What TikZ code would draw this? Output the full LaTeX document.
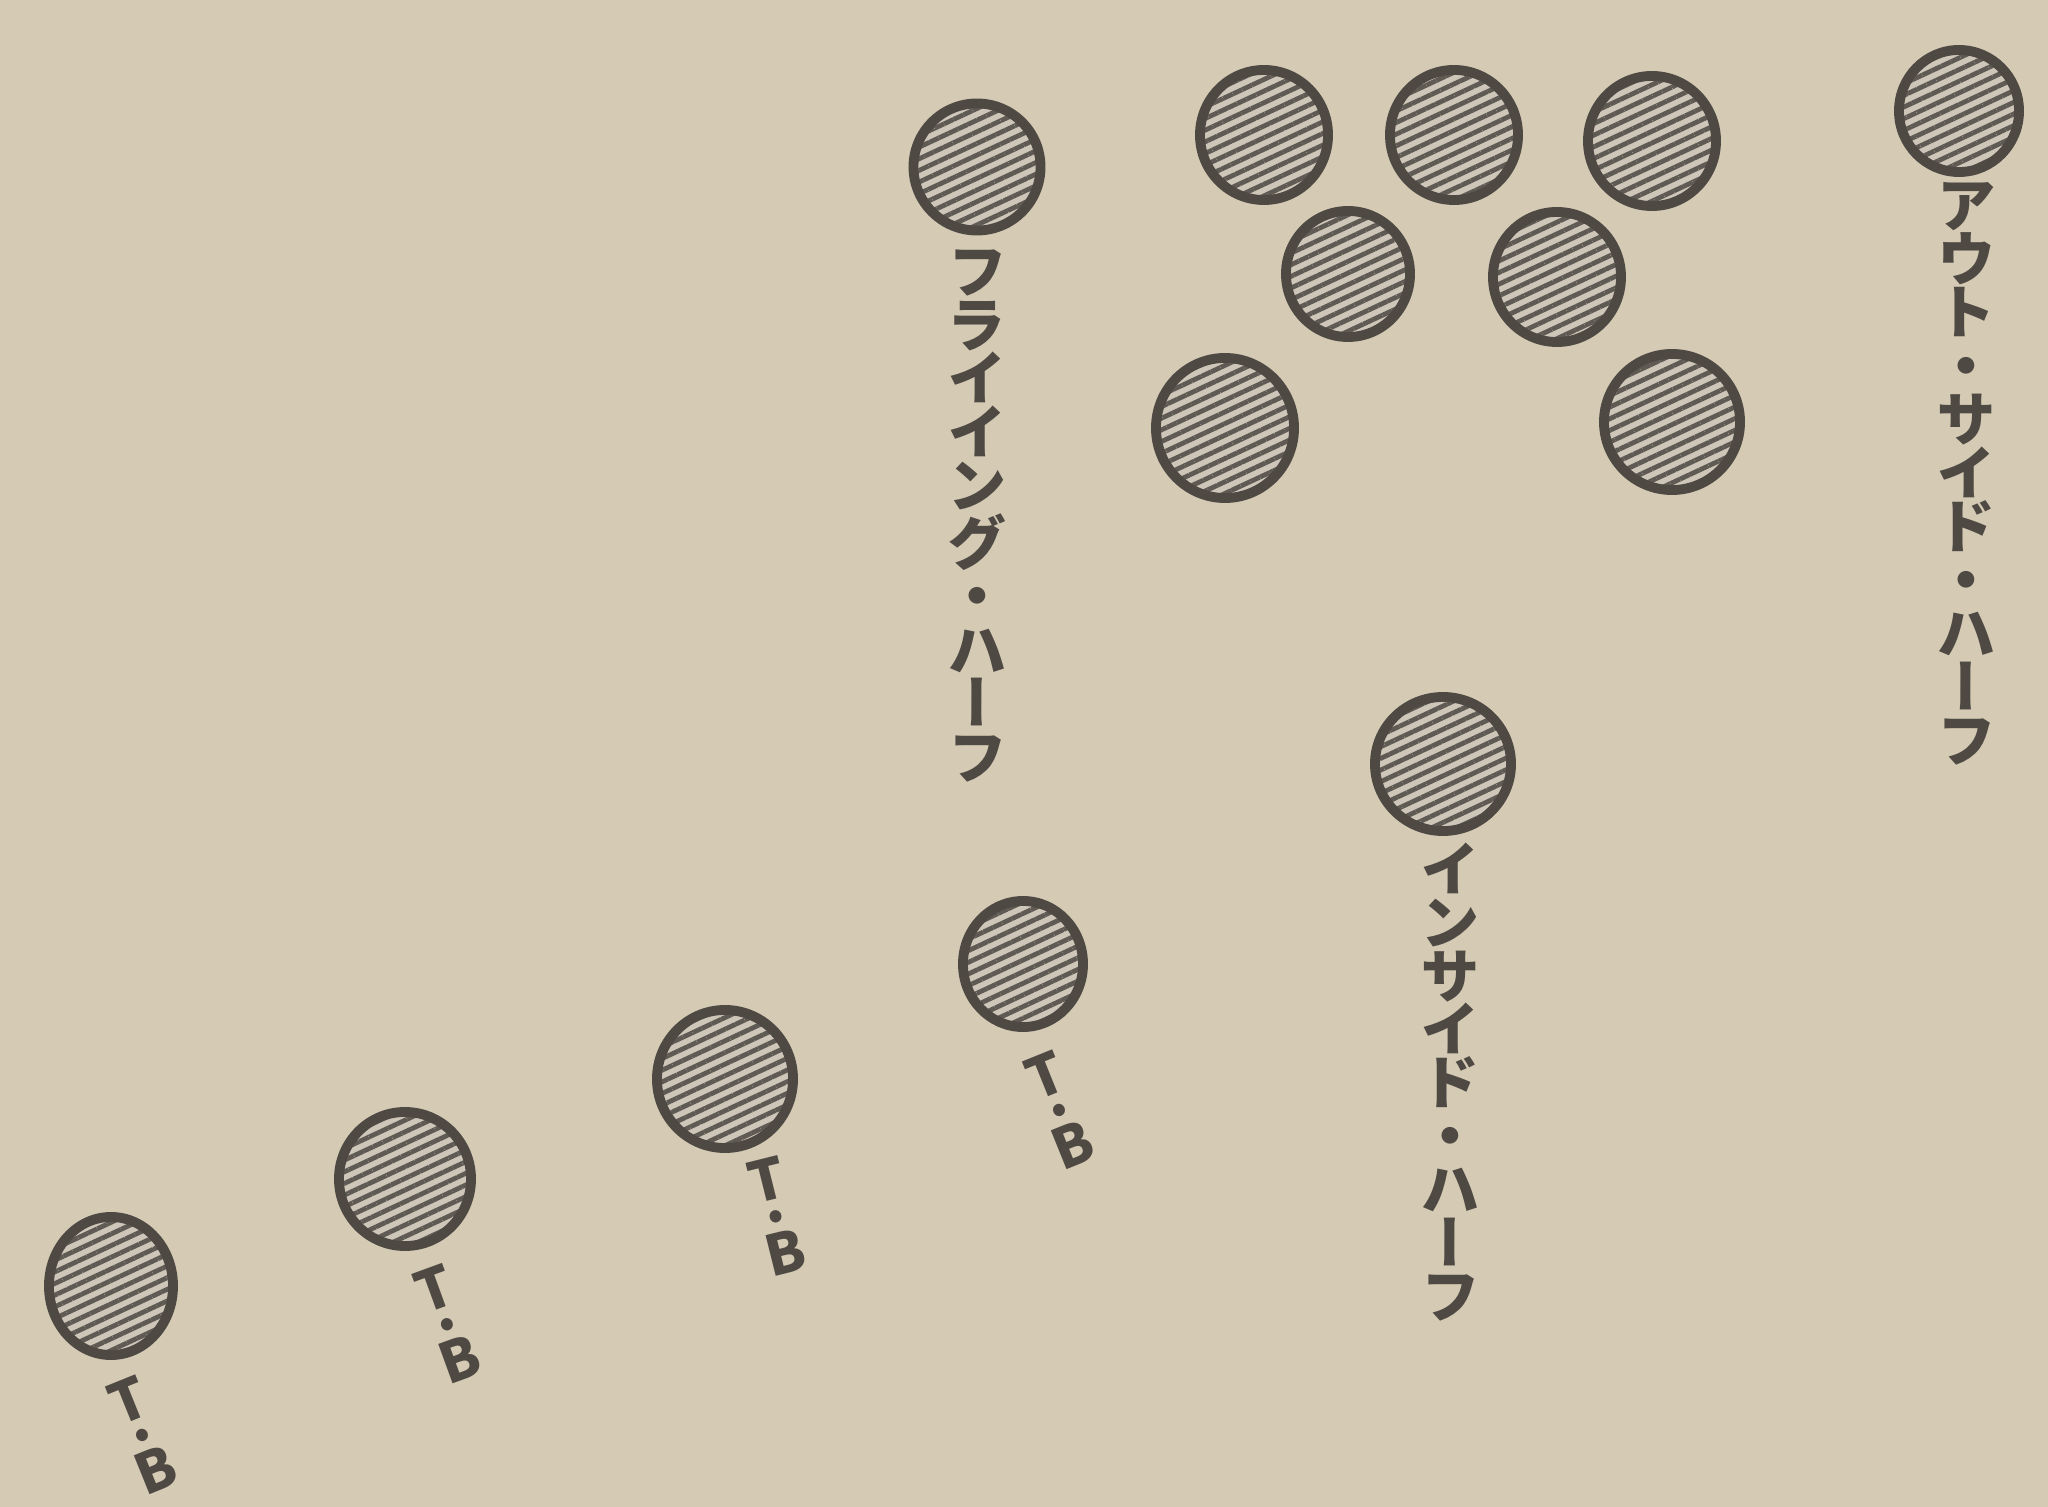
\documentclass[tikz,border=0pt]{standalone}
\usepackage{fontspec}
\newfontfamily\cjk[RawFeature=+vert]{Noto Sans CJK JP}
\usetikzlibrary{shapes.geometric,patterns.meta}
\definecolor{paper}{RGB}{213,202,180}
\definecolor{ink}{RGB}{78,73,67}
\definecolor{hatch}{RGB}{95,90,83}
\definecolor{base}{RGB}{205,198,185}
\newcommand\tbfont{\cjk\bfseries\fontsize{16}{9.3}\selectfont\lineskiplimit=-100pt\relax}
\begin{document}
\begin{tikzpicture}[x=0.01cm,y=-0.01cm,
  player/.style={ellipse, draw=ink, line width=2.8pt, inner sep=0pt,
    preaction={fill=base},
    pattern={Lines[angle=25,distance=3pt,line width=1.35pt]}, pattern color=hatch,
    minimum width=1.28cm, minimum height=1.3cm},
  lbl/.style={text=ink, font=\cjk\bfseries\fontsize{17}{15.2}\selectfont, align=center, inner sep=0pt},
  tblbl/.style={text=ink, font=\tbfont, align=center, inner sep=0pt}]
\fill[paper] (0,0) rectangle (2048,1507);
\useasboundingbox (0,0) rectangle (2048,1507);
% players
\node[player, minimum width=1.2cm, minimum height=1.22cm] (oh) at (1959,111) {};
\node[player] (s1) at (1264,135) {};
\node[player] (s2) at (1454,135) {};
\node[player] (s3) at (1652,141) {};
\node[player, minimum width=1.24cm, minimum height=1.26cm] (s4) at (1348,274) {};
\node[player] (s5) at (1557,277) {};
\node[player, minimum width=1.38cm, minimum height=1.4cm] (s6) at (1225,428) {};
\node[player, minimum width=1.36cm, minimum height=1.36cm] (s7) at (1672,422) {};
\node[player, minimum width=1.27cm, minimum height=1.27cm] (fh) at (977,167) {};
\node[player, minimum width=1.36cm, minimum height=1.34cm] (ih) at (1443,764) {};
\node[player, minimum width=1.2cm, minimum height=1.26cm] (tb1) at (1023,964) {};
\node[player, minimum width=1.36cm, minimum height=1.38cm] (tb2) at (725,1079) {};
\node[player, minimum width=1.32cm, minimum height=1.34cm] (tb3) at (405,1179) {};
\node[player, minimum width=1.24cm, minimum height=1.38cm] (tb4) at (111,1286) {};
% labels
\node[lbl] (loh) at (1966,474) {ア\\ウ\\ト\\・\\サ\\イ\\ド\\・\\ハ\\ー\\フ};
\node[lbl] (lfh) at (977,516) {フ\\ラ\\イ\\イ\\ン\\グ\\・\\ハ\\ー\\フ};
\node[lbl] (lih) at (1450,1082) {イ\\ン\\サ\\イ\\ド\\・\\ハ\\ー\\フ};
\node[tblbl, rotate=22] (ltb1) at (1059,1110) {T\\[1.6pt]·\\[1pt]B};
\node[tblbl, rotate=14] (ltb2) at (776,1216) {T\\[1.6pt]·\\[1pt]B};
\node[tblbl, rotate=20] (ltb3) at (447,1324) {T\\[1.6pt]·\\[1pt]B};
\node[tblbl, rotate=22] (ltb4) at (142,1435) {T\\[1.6pt]·\\[1pt]B};
\end{tikzpicture}
\end{document}
